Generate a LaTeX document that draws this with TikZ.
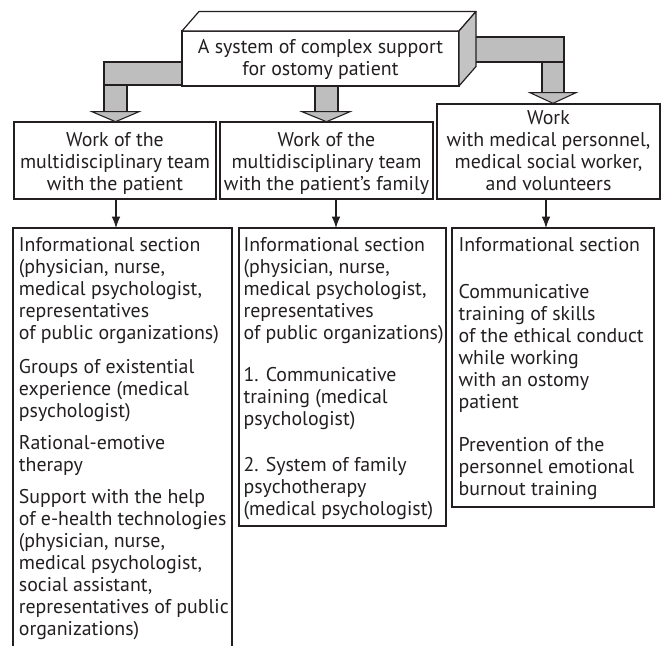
\documentclass[tikz,border=0pt]{standalone}
\usepackage{fontspec}
\setmainfont{PT Sans}
\usetikzlibrary{arrows.meta}
\definecolor{ink}{RGB}{35,31,32}
\definecolor{barg}{RGB}{190,190,190}
\definecolor{sideg}{RGB}{195,195,195}
\begin{document}
\begin{tikzpicture}[x=0.75pt,y=-0.75pt,line width=0.9pt,
  box/.style={draw=ink,line width=0.9pt,inner sep=0pt,outer sep=0pt},
  txt/.style={font=\fontsize{14.9}{16.5}\selectfont,inner sep=0pt,align=left,anchor=base west,text=ink},
  ctxt/.style={font=\fontsize{14.9}{16.4}\selectfont,inner sep=0pt,align=center,anchor=base,text=ink},
  garrow/.style={fill=barg,draw=ink,line width=0.8pt},
  con/.style={draw=ink,-{Latex[length=8.5pt,width=6.5pt]},line width=0.8pt}]
\useasboundingbox (0,0) rectangle (662,646);
% gray connectors
\draw[garrow] (104,62) rectangle (182,85);
\draw[garrow] (104,85) rectangle (127,111.7);
\draw[garrow] (92,111.7) -- (139,111.7) -- (115.5,121.7) -- cycle;
\draw[garrow] (315,85) rectangle (338,111.7);
\draw[garrow] (302,111.7) -- (350,111.7) -- (326.5,121.7) -- cycle;
\draw[garrow] (470,37) rectangle (564,62);
\draw[garrow] (542,62) rectangle (564,92.7);
\draw[garrow] (530,92.7) -- (576,92.7) -- (553,103.3) -- cycle;
% top 3D box
\node[box,fill=white,minimum width=207.75pt,minimum height=41.25pt] (top) at (320.5,58.5) {};
\draw[draw=ink,fill=white,line join=round] (top.north west) -- ++(17,-19.5) -- ++(277,0) -- (top.north east) -- cycle;
\draw[draw=ink,fill=sideg,line join=round] (top.north east) -- ++(17,-19.5) -- ++(0,55) -- (top.south east) -- cycle;
\node[ctxt] (toptxt) at (320.5,75) {A system of complex support\\for ostomy patient};
% level 2 boxes
\node[box,minimum width=151.5pt,minimum height=57.75pt] (b1) at (115,160.5) {};
\node[box,minimum width=159.75pt,minimum height=57.75pt] (b2) at (326.5,160.5) {};
\node[box,minimum width=167.25pt,minimum height=71.25pt] (b3) at (548.5,151.5) {};
\node[ctxt] (b1t) at (115,190.5) {Work of the\\multidisciplinary team\\with the patient};
\node[ctxt] (b2t) at (326.5,190.5) {Work of the\\multidisciplinary team\\with the patient’s family};
\node[ctxt] (b3t) at (548.5,190.5) {Work\\with medical personnel,\\medical social worker,\\and volunteers};
% level 3 boxes
\node[inner sep=0pt,outer sep=0pt,minimum width=164.25pt,minimum height=313.5pt,anchor=north] (c1) at (122.5,228) {};
\draw[draw=ink] (c1.south west) -- (c1.north west) -- (c1.north east) -- (c1.south east);
\node[box,minimum width=155.25pt,minimum height=223.5pt] (c2) at (342.5,377) {};
\node[box,minimum width=151.5pt,minimum height=209.25pt] (c3) at (553,367.5) {};
% connectors
\coordinate (ax1) at (116,0);
\coordinate (ax2) at (336,0);
\coordinate (ax3) at (546,0);
\draw[con] (b1.south -| ax1) -- (c1.north -| ax1);
\draw[con] (b2.south -| ax2) -- (c2.north -| ax2);
\draw[con] (b3.south -| ax3) -- (c3.north -| ax3);
% texts column 1 (anchored at the baseline of the last line)
\node[txt] (a1) at (18.3,339.5) {Informational section\\(physician, nurse,\\medical psychologist,\\representatives\\of public organizations)};
\node[txt] (a2) at (18.3,417.2) {Groups of existential\\experience (medical\\psychologist)};
\node[txt] (a3) at (18.3,471.8) {Rational-emotive\\therapy};
\node[txt] (a4) at (18.3,635.5) {Support with the help\\of e-health technologies\\(physician, nurse,\\medical psychologist,\\social assistant,\\representatives of public\\organizations)};
% texts column 2
\node[txt] (bb1) at (243,339.5) {Informational section\\(physician, nurse,\\medical psychologist,\\representatives\\of public organizations)};
\node[txt] (bb2) at (243,425.5) {1. Communicative\\training (medical\\psychologist)};
\node[txt] (bb3) at (243,515.5) {2. System of family\\psychotherapy\\(medical psychologist)};
% texts column 3
\node[txt] (cc1) at (458,251.5) {Informational section};
\node[txt] (cc2) at (458,408.2) {Communicative\\training of skills\\of the ethical conduct\\while working\\with an ostomy\\patient};
\node[txt] (cc3) at (458,495.5) {Prevention of the\\personnel emotional\\burnout training};
\end{tikzpicture}
\end{document}
